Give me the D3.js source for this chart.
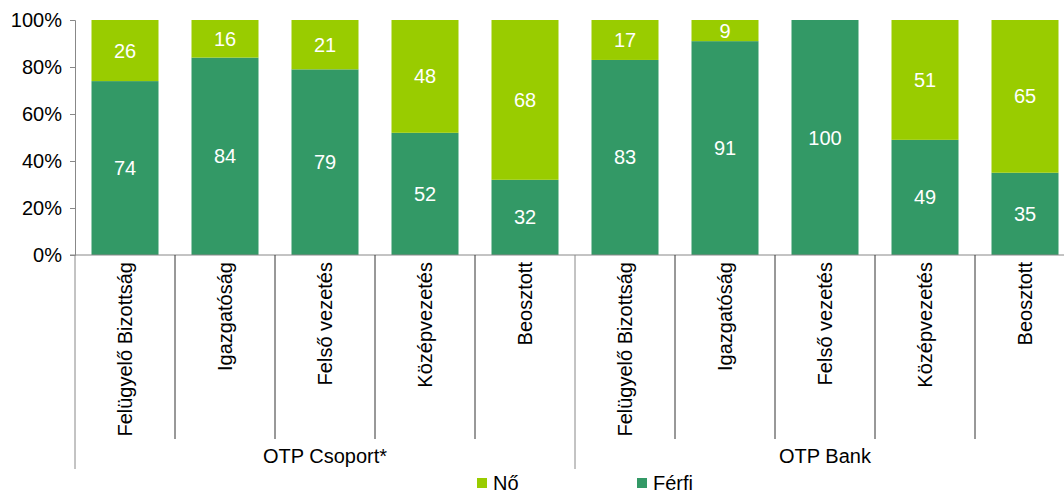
<!DOCTYPE html>
<html>
<head>
<meta charset="utf-8">
<script src="https://cdn.jsdelivr.net/npm/d3@7"></script>
<style>
  body { margin: 0; background: #fff; }
  svg text { font-family: "Liberation Sans", Arial, sans-serif; }
</style>
</head>
<body>
<svg width="1064" height="493"></svg>
<script>
var categories = ["Felügyelő Bizottság", "Igazgatóság", "Felső vezetés", "Középvezetés", "Beosztott",
                  "Felügyelő Bizottság", "Igazgatóság", "Felső vezetés", "Középvezetés", "Beosztott"];
var groups = ["OTP Csoport*", "OTP Bank"];
var ferfi = [74, 84, 79, 52, 32, 83, 91, 100, 49, 35];
var no = [26, 16, 21, 48, 68, 17, 9, 0, 51, 65];
var yTicks = [0, 20, 40, 60, 80, 100];

var colFerfi = "#339966", colNo = "#99cc00";
var svg = d3.select("svg");
var plotLeft = 75, plotRight = 1075, plotTop = 20, plotBottom = 255;
var fs = 20;

var x = d3.scaleBand().domain(d3.range(categories.length)).range([plotLeft, plotRight]).paddingInner(0.33).paddingOuter(0.165);
var y = d3.scaleLinear().domain([0, 100]).range([plotBottom, plotTop]);
var step = x.step();

var rows = categories.map(function(c, i) { return { i: i, f: ferfi[i], n: no[i] }; });

// bars
var g = svg.append("g");
g.selectAll("rect.f").data(rows).enter().append("rect")
  .attr("x", function(d) { return x(d.i); })
  .attr("width", x.bandwidth())
  .attr("y", function(d) { return y(d.f); })
  .attr("height", function(d) { return y(0) - y(d.f); })
  .attr("fill", colFerfi);
g.selectAll("rect.n").data(rows.filter(function(d) { return d.n > 0; })).enter().append("rect")
  .attr("x", function(d) { return x(d.i); })
  .attr("width", x.bandwidth())
  .attr("y", function(d) { return y(d.f + d.n); })
  .attr("height", function(d) { return y(d.f) - y(d.f + d.n); })
  .attr("fill", colNo);

// value labels
g.selectAll("text.f").data(rows).enter().append("text")
  .attr("x", function(d) { return x(d.i) + x.bandwidth() / 2; })
  .attr("y", function(d) { return (y(0) + y(d.f)) / 2; })
  .attr("dy", "0.35em").attr("text-anchor", "middle")
  .attr("fill", "#fff").attr("font-size", fs)
  .text(function(d) { return d.f; });
g.selectAll("text.n").data(rows.filter(function(d) { return d.n > 0; })).enter().append("text")
  .attr("x", function(d) { return x(d.i) + x.bandwidth() / 2; })
  .attr("y", function(d) { return (y(d.f) + y(d.f + d.n)) / 2; })
  .attr("dy", "0.35em").attr("text-anchor", "middle")
  .attr("fill", "#fff").attr("font-size", fs)
  .text(function(d) { return d.n; });

// y axis
var yAxis = svg.append("g").attr("transform", "translate(" + plotLeft + ",0)")
  .call(d3.axisLeft(y).tickValues(yTicks).tickSize(5).tickPadding(8).tickFormat(function(d) { return d + "%"; }));
yAxis.selectAll("path, line").attr("stroke", "#888");
yAxis.selectAll("text").attr("font-size", fs).attr("fill", "#000")
  .style("font-family", '"Liberation Sans", Arial, sans-serif');

// bottom axis line
svg.append("line").attr("x1", plotLeft - 5).attr("x2", plotRight).attr("y1", plotBottom).attr("y2", plotBottom)
  .attr("stroke", "#888");

// category separators
d3.range(1, categories.length).forEach(function(i) {
  var xx = plotLeft + i * step;
  var isGroup = i % 5 === 0;
  svg.append("line").attr("x1", xx).attr("x2", xx).attr("y1", plotBottom).attr("y2", isGroup ? 469 : 439)
    .attr("stroke", isGroup ? "#888" : "#333");
});
svg.append("line").attr("x1", plotLeft).attr("x2", plotLeft).attr("y1", plotBottom).attr("y2", 469).attr("stroke", "#888");

// category labels
svg.selectAll("text.cat").data(categories).enter().append("text")
  .attr("transform", function(d, i) { return "translate(" + (x(i) + x.bandwidth() / 2 + 7) + "," + (plotBottom + 7) + ") rotate(-90)"; })
  .attr("text-anchor", "end").attr("font-size", fs).attr("fill", "#000")
  .text(function(d) { return d; });

// group labels
groups.forEach(function(gname, k) {
  svg.append("text").attr("x", plotLeft + (k * 5 + 2.5) * step).attr("y", 463)
    .attr("text-anchor", "middle").attr("font-size", fs).attr("fill", "#000").text(gname);
});

// legend
var legend = [{ name: "Nő", color: colNo, x: 477 }, { name: "Férfi", color: colFerfi, x: 637 }];
legend.forEach(function(l) {
  svg.append("rect").attr("x", l.x).attr("y", 478).attr("width", 10).attr("height", 10).attr("fill", l.color);
  svg.append("text").attr("x", l.x + 16).attr("y", 490).attr("font-size", fs).attr("fill", "#000").text(l.name);
});
</script>
</body>
</html>
